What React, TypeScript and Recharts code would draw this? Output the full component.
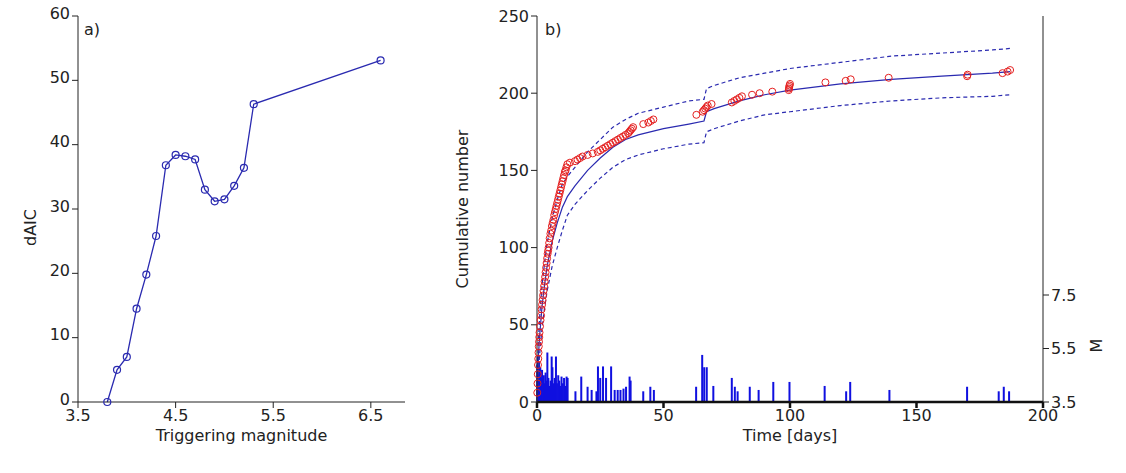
import React from "react";
import {
  Bar,
  ComposedChart,
  Label,
  Line,
  LineChart,
  Scatter,
  XAxis,
  YAxis,
} from "recharts";

// panel a
const trigMag = [3.8, 3.9, 4.0, 4.1, 4.2, 4.3, 4.4, 4.5, 4.6, 4.7, 4.8, 4.9, 5.0, 5.1, 5.2, 5.3, 6.6];
const dAIC = [0, 5, 7, 14.5, 19.8, 25.8, 36.8, 38.4, 38.2, 37.7, 33, 31.2, 31.5, 33.6, 36.4, 46.3, 53.1];

// panel b: observed cumulative counts
const obsT = [0.1, 0.2, 0.3, 0.4, 0.5, 0.6, 0.7, 0.8, 0.9, 1.0, 1.2, 1.4, 1.6, 1.8, 2.0, 2.2, 2.4, 2.6, 2.8, 3.0, 3.2, 3.4, 3.6, 3.8, 4.0, 4.2, 4.4, 4.6, 4.8, 5.0, 5.3, 5.6, 5.9, 6.2, 6.5, 6.8, 7.1, 7.4, 7.7, 8.0, 8.3, 8.6, 8.9, 9.2, 9.5, 9.8, 10.1, 10.4, 10.7, 11.0, 11.3, 11.6, 12.0, 13, 15, 16, 17, 18, 20, 22, 24, 25, 26, 27, 28, 29, 30, 31, 32, 33, 34, 35, 36, 36.5, 37, 37.5, 38, 42, 44, 45, 46, 63, 65.5, 66, 66.5, 67, 67.5, 69, 77, 78, 79, 80, 81, 85, 88, 93, 99.5, 99.6, 99.7, 99.8, 100, 114, 122, 124, 139, 170, 170.2, 184, 186, 187];
const obsN = [6, 12, 18, 24, 28, 32, 36, 39, 42, 45, 49, 53, 56, 60, 63, 66, 69, 72, 75, 78, 81, 84, 87, 90, 93, 96, 98, 100, 103, 106, 109, 111, 114, 116, 118, 121, 123, 125, 127, 129, 131, 133, 135, 137, 139, 141, 143, 145, 147, 149, 150, 152, 154, 155, 156, 157, 158, 159, 160, 161, 162, 163, 164, 165, 166, 167, 168, 169, 170, 171, 172, 173, 174, 175, 176, 177, 178, 180, 181, 182, 183, 186, 188, 189, 190, 191, 192, 193, 194, 195, 196, 197, 198, 199, 200, 201, 202, 203, 204, 205, 206, 207, 208, 209, 210, 211, 212, 213, 214, 215];

// model and confidence band
const modelT = [0, 0.5, 1, 2, 3, 4, 6, 8, 10, 12, 15, 20, 25, 30, 35, 40, 50, 60, 66, 67, 70, 80, 90, 100, 120, 140, 160, 180, 187];
const modelN = [0, 28, 42, 62, 76, 88, 104, 116, 126, 133, 140, 150, 158, 165, 170, 173, 177, 180, 182, 188, 190, 195, 199, 202, 206, 209, 211, 213, 214];
const lowerN = [0, 18, 30, 48, 61, 72, 88, 100, 111, 121, 128, 137, 145, 152, 157, 160, 164, 167, 168, 175, 177, 182, 186, 188, 192, 195, 197, 198, 199];
const upperN = [0, 38, 54, 76, 90, 103, 119, 131, 141, 146, 152, 162, 170, 178, 183, 187, 191, 195, 196, 203, 205, 210, 213, 216, 220, 224, 226, 228, 229];

// magnitudes of events
const eqT = [0.1, 0.3, 0.5, 0.8, 1.0, 1.3, 1.6, 2.0, 2.3, 2.7, 3.0, 3.4, 3.8, 4.1, 4.5, 5.0, 5.4, 5.8, 6.1, 6.6, 7.0, 7.5, 7.9, 8.4, 8.8, 9.3, 9.7, 10.2, 10.7, 11.2, 11.7, 12.1, 15.2, 17.5, 20, 21.6, 23.5, 24.1, 25, 26.1, 27.3, 29.3, 30.7, 31.9, 33, 34.2, 35.2, 36.6, 37, 42, 44.8, 46.2, 62.9, 65.3, 66.1, 67.1, 69.7, 77, 78.2, 79.3, 84.1, 87.6, 93.4, 99.8, 113.7, 122.2, 123.8, 139.3, 170, 182.5, 184.5, 186.6];
const eqM = [4.9, 5.2, 4.6, 5.0, 4.5, 4.8, 4.4, 4.7, 4.3, 4.5, 4.2, 4.6, 4.3, 5.35, 4.4, 4.1, 4.3, 5.2, 4.8, 4.2, 4.4, 5.2, 4.2, 4.5, 4.3, 4.1, 4.45, 4.2, 4.4, 4.1, 4.45, 4.4, 3.9, 4.45, 4.07, 3.95, 3.9, 4.83, 4.4, 4.83, 4.4, 4.83, 3.95, 3.95, 3.95, 4.0, 4.07, 4.45, 4.3, 3.9, 4.07, 3.95, 4.07, 5.26, 4.8, 4.8, 4.1, 4.4, 4.07, 3.9, 4.07, 3.95, 4.25, 4.25, 4.1, 3.9, 4.25, 3.95, 4.07, 3.9, 4.07, 3.9];

const font = "'DejaVu Sans', sans-serif";
const tick = { fill: "#222", fontSize: 16, fontFamily: font };
const labelStyle = { fill: "#222", fontSize: 16, fontFamily: font };
const blue = "#2a2ab0";

const aData = trigMag.map((m, i) => ({ m, v: dAIC[i] }));
const eqData = eqT.map((t, i) => ({ t, M: eqM[i] }));
const obsData = obsT.map((t, i) => ({ t, n: obsN[i] }));
const modelData = modelT.map((t, i) => ({ t, n: modelN[i], lo: lowerN[i], hi: upperN[i] }));

const RedCircle = (p: any) => (
  <circle cx={p.cx} cy={p.cy} r={3.5} fill="none" stroke="#e52020" strokeWidth={1} />
);

const Spike = (p: any) => {
  const cx = p.x + p.width / 2;
  return <rect x={cx - 1} y={p.y} width={2} height={Math.max(0, p.height)} fill="#1010e0" />;
};

export default function App() {
  return (
    <div style={{ position: "fixed", left: 0, top: 0, width: 1126, height: 473, background: "#fff" }}>
      <div style={{ position: "absolute", left: 0, top: 0 }}>
        <LineChart width={420} height={473} data={aData} margin={{ top: 16, right: 15, bottom: 41, left: 38 }}>
          <XAxis dataKey="m" type="number" domain={[3.5, 6.85]} ticks={[3.5, 4.5, 5.5, 6.5]}
            tick={tick} stroke="#222" height={30} allowDataOverflow>
            <Label value="Triggering magnitude" position="bottom" offset={-2} style={labelStyle} />
          </XAxis>
          <XAxis xAxisId="top" orientation="top" type="number" domain={[3.5, 6.85]} tick={false} tickLine={false} stroke="#222" height={0} />
          <YAxis type="number" domain={[0, 60]} ticks={[0, 10, 20, 30, 40, 50, 60]} tick={{ ...tick, dy: -3 }} stroke="#222" width={40}>
            <Label value="dAIC" angle={-90} position="left" offset={8} style={labelStyle} />
          </YAxis>
          <YAxis yAxisId="r" orientation="right" tick={false} tickLine={false} stroke="#222" width={0} />
          <Line dataKey="v" stroke={blue} strokeWidth={1.3} isAnimationActive={false}
            dot={{ r: 3.5, stroke: blue, fill: "none", strokeWidth: 1.2 }} />
        </LineChart>
      </div>
      <div style={{ position: "absolute", left: 440, top: 0 }}>
        <ComposedChart width={686} height={473} data={eqData} margin={{ top: 16, right: 33, bottom: 41, left: 0 }}>
          <XAxis dataKey="t" type="number" domain={[0, 200]} ticks={[0, 50, 100, 150, 200]}
            tick={tick} stroke="#111" strokeWidth={2.5} height={30}>
            <Label value="Time [days]" position="bottom" offset={-2} style={labelStyle} />
          </XAxis>
          <XAxis xAxisId="top" orientation="top" type="number" domain={[0, 200]} tick={false} tickLine={false} stroke="#222" height={0} />
          <YAxis yAxisId="n" type="number" domain={[0, 250]} ticks={[0, 50, 100, 150, 200, 250]} tick={tick} stroke="#222" width={97}>
            <Label value="Cumulative number" angle={-90} position="insideLeft" offset={22} style={{ ...labelStyle, textAnchor: "middle" }} />
          </YAxis>
          <YAxis yAxisId="m" orientation="right" type="number" domain={[3.5, 17.93]} ticks={[3.5, 5.5, 7.5]}
            tick={tick} stroke="#222" width={50} allowDataOverflow />
          <Bar yAxisId="m" dataKey="M" fill="#1010e0" barSize={2} shape={Spike} isAnimationActive={false} />
          <Line yAxisId="n" data={modelData} dataKey="lo" stroke={blue} strokeWidth={1.2} strokeDasharray="4 3" dot={false} isAnimationActive={false} />
          <Line yAxisId="n" data={modelData} dataKey="hi" stroke={blue} strokeWidth={1.2} strokeDasharray="4 3" dot={false} isAnimationActive={false} />
          <Line yAxisId="n" data={modelData} dataKey="n" stroke={blue} strokeWidth={1.2} dot={false} isAnimationActive={false} />
          <Scatter yAxisId="n" data={obsData} dataKey="n" shape={RedCircle} isAnimationActive={false} />
        </ComposedChart>
      </div>
      <div style={{ position: "absolute", left: 84, top: 20, fontFamily: font, fontSize: 16, color: "#222" }}>a)</div>
      <div style={{ position: "absolute", left: 545, top: 20, fontFamily: font, fontSize: 16, color: "#222" }}>b)</div>
      <div style={{ position: "absolute", left: 1090, top: 336, fontFamily: font, fontSize: 16, color: "#222", transform: "rotate(-90deg)" }}>M</div>
    </div>
  );
}
